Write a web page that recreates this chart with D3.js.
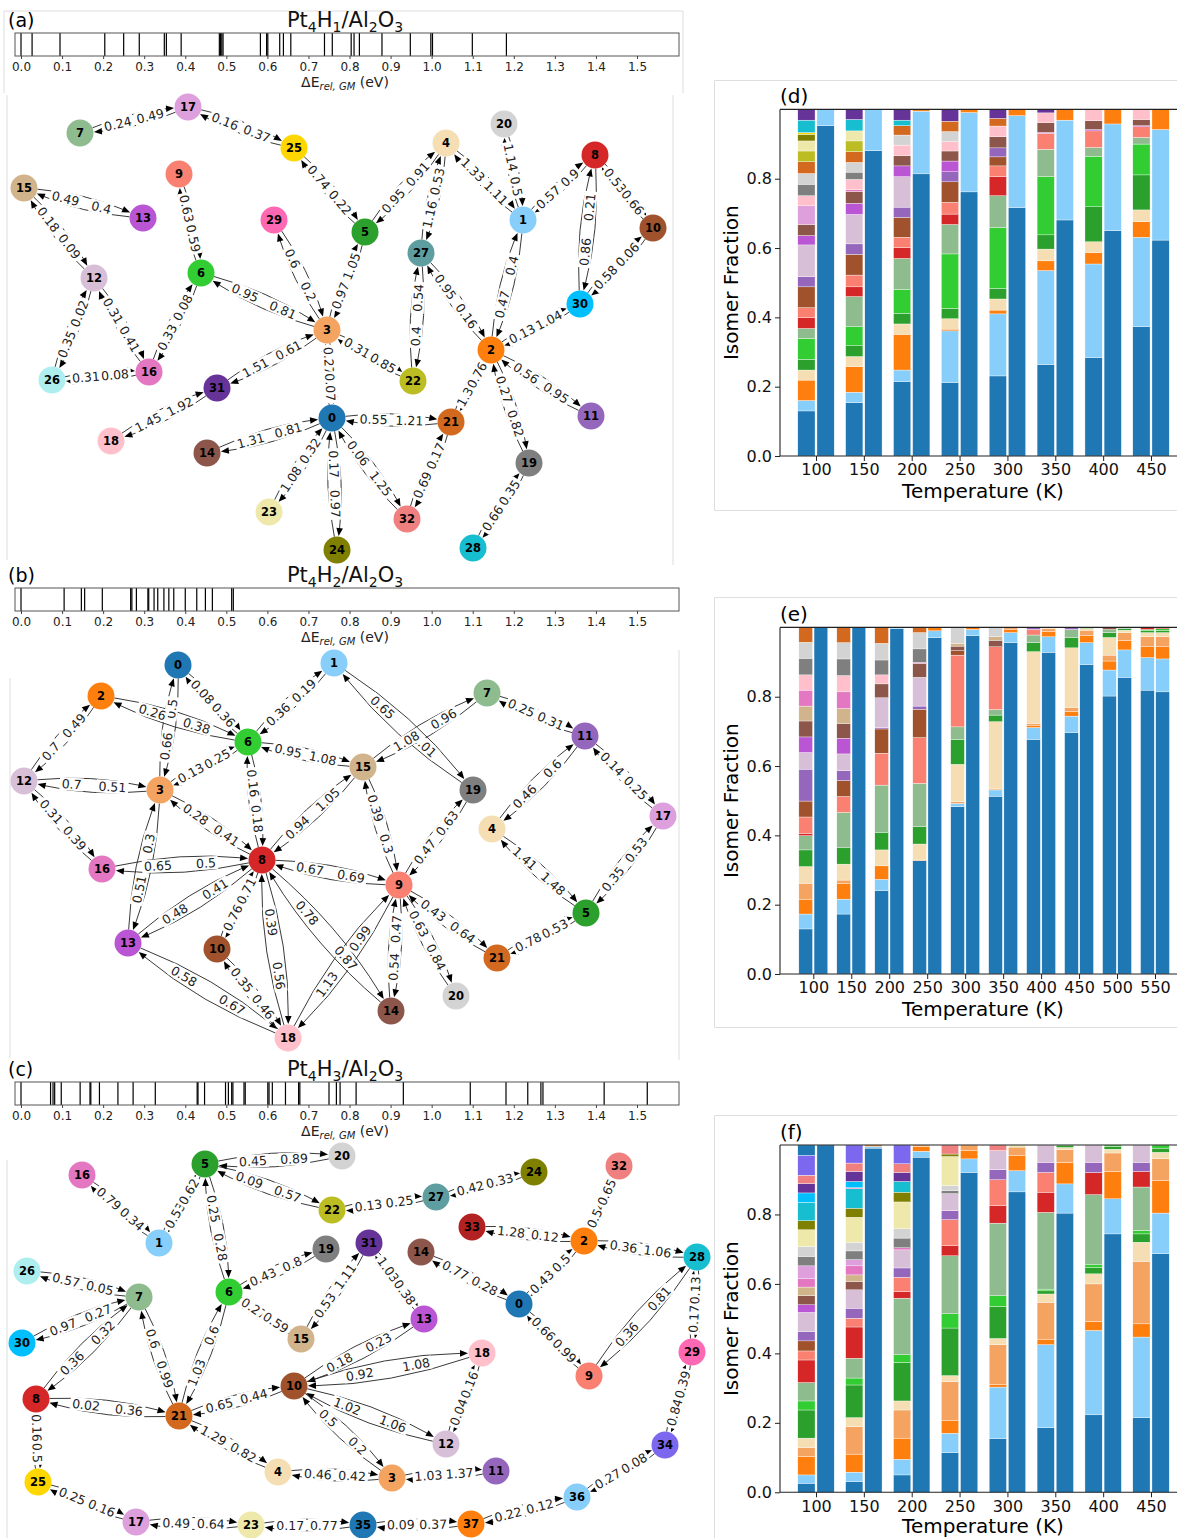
<!DOCTYPE html>
<html><head><meta charset="utf-8">
<script src="https://cdn.jsdelivr.net/npm/d3@7"></script>
<style>
body{margin:0;background:#fff;}
svg{display:block;font-family:"DejaVu Sans",sans-serif;}
</style></head><body>
<svg id="c" width="1177" height="1538"></svg>
<script>
// ---------------- colours (isomer index -> colour) ----------------
const palette = ["#1f77b4","#87cefa","#ff7f0e","#f4a460","#f5deb3","#2ca02c","#32cd32","#8fbc8f","#d62728","#fa8072","#a0522d","#9467bd","#d8bfd8","#ba55d3","#8c564b","#d2b48c","#e377c2","#dda0dd","#ffc0cb","#7f7f7f","#d3d3d3","#d2691e","#bcbd22","#eee8aa","#808000","#ffd700","#afeeee","#5f9ea0","#17becf","#ff69b4","#00bfff","#663399","#f08080","#b22222","#7b68ee"];

// ---------------- energy strips (eV relative to GM) ----------------
const energyTicks = [0,0.1,0.2,0.3,0.4,0.5,0.6,0.7,0.8,0.9,1.0,1.1,1.2,1.3,1.4,1.5];
const energiesA = [0.0,0.027,0.095,0.204,0.25,0.288,0.349,0.354,0.39,0.483,0.486,0.489,0.492,0.583,0.598,0.601,0.63,0.639,0.657,0.739,0.758,0.804,0.811,0.824,0.879,0.948,0.998,1.002,1.099,1.182];
const energiesB = [0.0,0.105,0.147,0.155,0.198,0.267,0.27,0.281,0.309,0.311,0.324,0.333,0.348,0.36,0.372,0.4,0.428,0.449,0.466,0.513,0.517];
const energiesC = [0.0,0.072,0.078,0.082,0.098,0.144,0.168,0.17,0.191,0.236,0.273,0.327,0.429,0.431,0.447,0.498,0.505,0.513,0.516,0.543,0.546,0.601,0.604,0.612,0.644,0.676,0.679,0.75,0.768,0.777,0.816,0.931,1.094,1.181,1.234,1.266,1.271,1.42,1.525];

// ---------------- network layouts [isomer, layoutX, layoutY] ----------------
const nodesA = [[0,332,323],[1,523,125],[2,491,255],[3,327,235],[4,446,48],[5,365,137],[6,201,178],[7,80,38],[8,595,60],[9,179,79],[10,653,133],[11,591,321],[12,94,183],[13,143,123],[14,207,358],[15,24,93],[16,149,277],[17,188,12],[18,111,346],[19,529,368],[20,504,29],[21,451,327],[22,413,286],[23,269,417],[24,337,455],[25,294,53],[26,52,285],[27,421,158],[28,473,453],[29,274,125],[30,580,209],[31,217,293],[32,407,424]];
const nodesB = [[0,178,15],[1,334,13],[2,101,46],[3,160,140],[4,492,179],[5,586,263],[6,248,92],[7,487,43],[8,262,210],[9,399,235],[10,217,299],[11,585,86],[12,24,131],[13,128,293],[14,391,361],[15,363,117],[16,102,219],[17,663,166],[18,288,388],[19,473,140],[20,456,346],[21,497,308]];
const nodesC = [[0,519,164],[1,159,103],[2,584,101],[3,392,338],[4,278,332],[5,205,24],[6,229,152],[7,139,157],[8,36,259],[9,589,236],[10,294,246],[11,496,331],[12,446,304],[13,424,179],[14,421,112],[15,301,199],[16,82,35],[17,136,382],[18,482,213],[19,326,109],[20,342,16],[21,179,276],[22,332,70],[23,251,385],[24,534,32],[25,38,342],[26,27,131],[27,436,57],[28,697,117],[29,692,212],[30,22,203],[31,369,103],[32,619,26],[33,472,87],[34,665,305],[35,363,385],[36,577,357],[37,471,384]];

// ---------------- barriers [u, v, label near u, label near v] ----------------
const edgesA = [[7,17,0.24,0.49],[17,25,0.16,0.37],[25,5,0.74,0.22],[15,13,0.49,0.4],[15,12,0.18,0.09],[9,6,0.63,0.59],[29,3,0.6,0.2],[12,26,0.02,0.35],[12,16,0.31,0.41],[16,6,0.33,0.08],[6,3,0.95,0.81],[26,16,0.31,0.08],[3,31,0.61,1.51],[31,18,1.92,1.45],[3,0,0.27,0.07],[3,5,0.97,1.05],[3,22,0.31,0.85],[0,14,0.81,1.31],[0,23,0.32,1.08],[0,24,0.17,0.97],[0,32,0.06,1.25],[0,21,0.55,1.21],[21,32,0.17,0.69],[21,2,1.3,0.76],[5,4,0.95,0.91],[4,27,0.53,1.16],[4,1,1.33,1.11],[20,1,1.14,0.5],[1,8,0.57,0.9],[8,10,0.53,0.66],[8,30,0.21,0.86],[10,30,0.06,0.58],[27,22,0.54,0.4],[27,2,0.95,0.16],[1,2,0.4,0.47],[2,30,0.13,1.04],[2,11,0.56,0.95],[2,19,0.27,0.82],[19,28,0.35,0.66]];
const edgesB = [[0,6,0.08,0.36],[0,3,0.5,0.66],[1,6,0.19,0.36],[1,19,0.65,1.01],[2,12,0.49,0.7],[2,6,0.26,0.38],[12,3,0.7,0.51],[12,16,0.31,0.39],[3,6,0.13,0.25],[6,15,0.95,1.08],[6,8,0.16,0.18],[3,8,0.28,0.41],[3,13,0.3,0.51],[16,8,0.65,0.5],[8,15,0.94,1.05],[8,13,0.41,0.48],[8,10,0.71,0.76],[8,18,0.39,0.56],[8,14,0.78,0.87],[8,9,0.67,0.69],[13,18,0.58,0.67],[10,18,0.35,0.46],[18,9,1.13,0.99],[15,7,1.08,0.96],[15,9,0.39,0.3],[9,19,0.47,0.63],[9,14,0.47,0.54],[9,20,0.63,0.84],[9,21,0.43,0.64],[7,11,0.25,0.31],[11,4,0.6,0.46],[11,17,0.14,0.25],[4,5,1.41,1.48],[17,5,0.53,0.35],[5,21,0.53,0.78]];
const edgesC = [[16,1,0.79,0.34],[1,5,0.53,0.62],[5,20,0.45,0.89],[5,22,0.09,0.57],[5,6,0.25,0.28],[22,27,0.13,0.25],[27,24,0.42,0.33],[6,19,0.43,0.8],[6,15,0.27,0.59],[6,21,0.6,1.03],[15,31,0.53,1.11],[31,13,1.03,0.38],[26,7,0.57,0.05],[30,7,0.97,0.27],[7,8,0.32,0.36],[7,21,0.6,0.99],[8,21,0.02,0.36],[8,25,0.16,0.5],[21,10,0.65,0.44],[21,4,1.29,0.82],[10,13,0.18,0.23],[10,18,0.92,1.08],[10,12,1.02,1.06],[10,3,0.5,0.2],[18,12,0.16,0.04],[4,3,0.46,0.42],[3,11,1.03,1.37],[25,17,0.25,0.16],[17,23,0.49,0.64],[23,35,0.17,0.77],[35,37,0.09,0.37],[37,36,0.22,0.12],[36,34,0.27,0.08],[34,29,0.84,0.39],[29,28,0.17,0.13],[28,2,1.06,0.36],[28,9,0.81,0.36],[2,32,0.54,0.65],[33,2,1.28,0.12],[0,2,0.43,0.5],[14,0,0.77,0.28],[0,9,0.66,0.99]];

// ---------------- isomer fractions: [isomer, cumulative fraction] ----------------
const tempsD = [100,150,200,250,300,350,400,450];
const dLeft = [
 [[0,.130],[1,.160],[2,.219],[4,.248],[5,.279],[6,.339],[7,.368],[8,.399],[9,.428],[10,.488],[11,.517],[12,.609],[13,.636],[14,.668],[17,.722],[18,.751],[19,.784],[20,.815],[21,.849],[22,.880],[23,.909],[24,.928],[25,.933],[28,.969],[31,1]],
 [[0,.154],[1,.184],[2,.258],[4,.287],[5,.318],[6,.373],[7,.460],[8,.488],[9,.522],[10,.582],[11,.612],[12,.697],[13,.729],[14,.763],[16,.768],[18,.798],[19,.819],[20,.847],[21,.878],[22,.909],[23,.938],[28,.971],[31,1]],
 [[0,.214],[1,.248],[2,.351],[4,.381],[5,.412],[6,.481],[7,.570],[8,.601],[9,.631],[10,.688],[11,.718],[12,.806],[13,.837],[14,.866],[18,.897],[20,.926],[21,.953],[28,.969],[31,1]],
 [[0,.212],[1,.361],[2,.366],[4,.396],[5,.426],[6,.583],[7,.668],[8,.698],[9,.732],[10,.791],[11,.820],[13,.851],[14,.880],[18,.907],[20,.936],[21,.966],[31,1]],
 [[0,.231],[1,.410],[2,.421],[4,.453],[5,.484],[6,.659],[7,.751],[8,.806],[9,.837],[10,.863],[11,.889],[14,.921],[18,.952],[21,.974],[31,1]],
 [[0,.264],[1,.535],[2,.563],[4,.597],[5,.638],[6,.806],[7,.885],[9,.931],[13,.934],[14,.962],[18,.990],[31,1]],
 [[0,.284],[1,.554],[2,.587],[4,.618],[5,.719],[6,.865],[7,.890],[9,.938],[13,.942],[14,.967],[18,1]],
 [[0,.373],[1,.631],[2,.676],[4,.710],[5,.811],[6,.900],[7,.919],[9,.950],[13,.953],[14,.971],[18,1]]
];
const dRight = [
 [[0,.953],[1,1]],[[0,.881],[1,1]],[[0,.814],[1,.995],[2,1]],[[0,.762],[1,.991],[2,1]],
 [[0,.717],[1,.982],[2,1]],[[0,.681],[1,.969],[2,1]],[[0,.650],[1,.958],[2,1]],[[0,.623],[1,.942],[2,1]]
];
const tempsE = [100,150,200,250,300,350,400,450,500,550];
const eLeft = [
 [[0,.130],[1,.173],[2,.216],[3,.262],[4,.310],[5,.358],[7,.399],[8,.406],[9,.453],[10,.499],[11,.591],[12,.639],[13,.684],[14,.730],[15,.773],[16,.819],[18,.863],[19,.911],[20,.957],[21,1]],
 [[0,.173],[1,.216],[2,.262],[3,.271],[4,.317],[5,.364],[7,.466],[9,.512],[10,.558],[11,.587],[12,.635],[13,.680],[14,.723],[15,.766],[16,.814],[18,.861],[19,.909],[20,.956],[21,1]],
 [[0,.240],[1,.273],[2,.312],[4,.358],[5,.409],[7,.545],[9,.637],[10,.707],[11,.711],[12,.797],[14,.837],[18,.863],[19,.906],[20,.954],[21,1]],
 [[0,.327],[3,.329],[4,.375],[5,.425],[7,.550],[9,.682],[10,.764],[11,.773],[12,.856],[14,.896],[16,.899],[19,.938],[20,.985],[21,1]],
 [[0,.483],[1,.492],[3,.497],[4,.605],[5,.677],[7,.713],[9,.920],[10,.933],[14,.946],[15,.954],[20,1]],
 [[0,.513],[1,.531],[3,.534],[4,.728],[5,.747],[7,.763],[9,.944],[14,.963],[15,.973],[20,1]],
 [[0,.677],[1,.711],[2,.718],[3,.723],[4,.930],[5,.956],[7,.978],[9,.994],[11,1]],
 [[0,.696],[1,.744],[2,.757],[3,.769],[4,.941],[5,.970],[7,.994],[11,1]],
 [[0,.802],[1,.877],[2,.903],[3,.920],[4,.971],[5,.985],[7,.994],[14,1]],
 [[0,.819],[1,.913],[2,.944],[3,.973],[4,.985],[5,.991],[6,.994],[8,1]]
];
const eRight = [
 [[0,1]],[[0,1]],[[0,.996],[1,1]],[[0,.971],[1,.99],[2,1]],[[0,.976],[1,.994],[2,1]],
 [[0,.956],[1,.985],[2,.995],[3,1]],[[0,.928],[1,.973],[2,.988],[3,.997],[4,1]],
 [[0,.893],[1,.956],[2,.976],[3,.992],[4,.997],[5,1]],
 [[0,.856],[1,.935],[2,.962],[3,.985],[4,.992],[5,.997],[7,1]],
 [[0,.814],[1,.909],[2,.944],[3,.973],[4,.985],[5,.991],[6,.996],[8,1]]
];
const tempsF = [100,150,200,250,300,350,400,450];
const fLeft = [
 [[0,.026],[1,.050],[2,.103],[3,.129],[4,.156],[5,.237],[6,.263],[7,.316],[8,.381],[9,.407],[10,.436],[11,.463],[12,.518],[13,.540],[14,.566],[15,.591],[16,.615],[17,.652],[19,.679],[20,.708],[23,.756],[24,.782],[28,.835],[30,.862],[31,.889],[32,.913],[34,.970],[35,1]],
 [[0,.031],[1,.058],[2,.110],[3,.189],[4,.215],[5,.309],[6,.329],[7,.386],[8,.476],[9,.501],[11,.530],[12,.583],[14,.607],[15,.626],[16,.652],[17,.670],[19,.695],[20,.720],[23,.792],[24,.818],[28,.874],[29,.877],[30,.895],[31,.924],[32,.948],[34,1]],
 [[0,.050],[1,.095],[2,.156],[3,.237],[4,.263],[5,.374],[6,.396],[7,.559],[8,.578],[9,.619],[11,.646],[12,.698],[16,.704],[19,.732],[20,.759],[23,.836],[24,.864],[28,.895],[31,.921],[32,.946],[34,1]],
 [[0,.114],[1,.170],[2,.206],[3,.319],[4,.336],[5,.473],[6,.514],[7,.681],[8,.710],[9,.785],[11,.811],[12,.860],[19,.868],[20,.883],[23,.967],[24,.974],[32,1]],
 [[0,.154],[1,.303],[2,.311],[3,.425],[4,.443],[5,.535],[6,.566],[7,.775],[8,.826],[9,.900],[11,.929],[12,.984],[32,1]],
 [[0,.186],[1,.425],[2,.441],[3,.547],[4,.571],[5,.580],[6,.585],[7,.806],[8,.864],[9,.921],[11,.950],[12,1]],
 [[0,.223],[1,.466],[2,.492],[3,.600],[4,.629],[5,.647],[6,.655],[7,.857],[8,.921],[11,.950],[12,1]],
 [[0,.215],[1,.447],[2,.485],[3,.665],[4,.720],[5,.744],[6,.754],[7,.879],[8,.924],[11,.950],[12,1]]
];
const fRight = [
 [[0,1]],[[0,.991],[1,.996],[2,1]],[[0,.965],[1,.982],[2,.996],[3,1]],[[0,.921],[1,.960],[2,.985],[3,1]],
 [[0,.865],[1,.926],[2,.969],[3,.994],[23,1]],
 [[0,.804],[1,.888],[2,.950],[3,.987],[4,.993],[5,.998],[6,1]],
 [[0,.744],[1,.845],[2,.924],[3,.977],[4,.988],[5,.996],[6,1]],
 [[0,.687],[1,.804],[2,.898],[3,.961],[4,.979],[5,.991],[6,1]]
];
const fractionTicks = [0,0.2,0.4,0.6,0.8];

// =====================================================================
const svg = d3.select("#c");
const col = i => palette[i % palette.length];

// faint frames
const frames = ["M4,93V11H683V93","M7,95V560","M673,95V565","M10,678V1058","M679,650V1060","M7,1160V1538",
  "M1177,80.5H714.5V510.5H1177","M1177,597.5H714.5V1027.5H1177","M1177,1115.5H714.5V1538"];
svg.append("g").selectAll("path").data(frames).join("path").attr("d",d=>d)
  .attr("fill","none").attr("stroke","#dedede").attr("stroke-width",1);

function chemTitle(g, x, y, h) {
  const t = g.append("text").attr("x",x).attr("y",y).attr("text-anchor","middle").attr("font-size",21).attr("fill","#111");
  const parts = [["Pt",0],["4",1],["H",0],[h,1],["/Al",0],["2",1],["O",0],["3",1]];
  let prevSub = 0;
  parts.forEach(([s,sub]) => {
    const dy = sub ? 5 : (prevSub ? -5 : 0);
    t.append("tspan").text(s).attr("font-size", sub?14:21).attr("dy", dy);
    prevSub = sub;
  });
}

function drawStrip(energies, top, h, letter) {
  const g = svg.append("g");
  const x = d3.scaleLinear().domain([0,1.5]).range([21,637]);
  const bh = 23;
  g.append("text").attr("x",8).attr("y",top-6).attr("font-size",19).text("("+letter+")");
  chemTitle(g, 345, top-6, h);
  g.selectAll("line.e").data(energies).join("line")
    .attr("x1",d=>x(d)).attr("x2",d=>x(d)).attr("y1",top).attr("y2",top+bh)
    .attr("stroke","#000").attr("stroke-width",1.2);
  g.append("rect").attr("x",15).attr("y",top).attr("width",664).attr("height",bh)
    .attr("fill","none").attr("stroke","#555").attr("stroke-width",1);
  const ax = g.append("g").attr("transform",`translate(0,${top+bh})`)
    .call(d3.axisBottom(x).tickValues(energyTicks).tickFormat(d3.format(".1f")).tickSize(3).tickPadding(3));
  ax.select(".domain").remove();
  ax.selectAll("text").attr("font-size",12).attr("font-family","DejaVu Sans").attr("fill","#222");
  ax.selectAll("line").attr("stroke","#444");
  const xl = g.append("text").attr("x",345).attr("y",top+bh+31).attr("text-anchor","middle").attr("font-size",14).attr("fill","#222");
  xl.append("tspan").text("\u0394E");
  xl.append("tspan").text("rel, GM").attr("font-style","italic").attr("font-size",10).attr("dy",3);
  xl.append("tspan").text(" (eV)").attr("dy",-3);
}

function drawGraph(nodes, edges, top) {
  const g = svg.append("g");
  const xs = d3.scaleLinear().domain([0,700]).range([0,700]);
  const ys = d3.scaleLinear().domain([0,480]).range([top, top+480]);
  const pos = new Map(nodes.map(([id,lx,ly]) => [id,[xs(lx),ys(ly)]]));
  const R = 13.5, rad = 0.08, AL = 8, AW = 3.3;
  const eg = g.append("g"), lg = g.append("g"), ng = g.append("g");
  function arc(p0, p2) {
    const dx = p2[0]-p0[0], dy = p2[1]-p0[1];
    const c = [(p0[0]+p2[0])/2 + rad*dy, (p0[1]+p2[1])/2 - rad*dx];
    let ux = c[0]-p0[0], uy = c[1]-p0[1], l = Math.hypot(ux,uy);
    const s = [p0[0]+ux/l*R, p0[1]+uy/l*R];
    let vx = p2[0]-c[0], vy = p2[1]-c[1]; l = Math.hypot(vx,vy); vx/=l; vy/=l;
    const tip = [p2[0]-vx*(R+0.5), p2[1]-vy*(R+0.5)];
    const base = [tip[0]-vx*AL, tip[1]-vy*AL];
    const pth = d3.path(); pth.moveTo(s[0],s[1]); pth.quadraticCurveTo(c[0],c[1],base[0]+vx*1,base[1]+vy*1);
    eg.append("path").attr("d",pth.toString()).attr("fill","none").attr("stroke","#222").attr("stroke-width",0.9);
    eg.append("path").attr("d",`M${tip[0]},${tip[1]}L${base[0]-vy*AW},${base[1]+vx*AW}L${base[0]+vy*AW},${base[1]-vx*AW}Z`).attr("fill","#000");
  }
  function lab(p0, p1, t, v) {
    const x = p0[0]+(p1[0]-p0[0])*t, y = p0[1]+(p1[1]-p0[1])*t;
    let a = Math.atan2(p1[1]-p0[1], p1[0]-p0[0])*180/Math.PI;
    if (a > 90) a -= 180; if (a < -90) a += 180;
    const gg = lg.append("g").attr("transform",`translate(${x},${y}) rotate(${a})`);
    const tx = gg.append("text").attr("text-anchor","middle").attr("dy","0.36em").attr("font-size",12.5).attr("fill","#222").text(String(v));
    const bb = tx.node().getBBox();
    gg.insert("rect","text").attr("x",bb.x-2).attr("y",bb.y+1).attr("width",bb.width+4).attr("height",bb.height-2).attr("fill","#fff");
  }
  edges.forEach(([u,v,lu,lv]) => {
    const pu = pos.get(u), pv = pos.get(v);
    arc(pu,pv); arc(pv,pu);
  });
  edges.forEach(([u,v,lu,lv]) => {
    const pu = pos.get(u), pv = pos.get(v);
    lab(pu,pv,0.35,lu); lab(pu,pv,0.65,lv);
  });
  nodes.forEach(([id]) => {
    const p = pos.get(id);
    ng.append("circle").attr("cx",p[0]).attr("cy",p[1]).attr("r",R).attr("fill",col(id));
    ng.append("text").attr("x",p[0]).attr("y",p[1]).attr("dy","0.36em").attr("text-anchor","middle")
      .attr("font-size",11.5).attr("font-weight","bold").attr("fill","#000").text(id);
  });
}

function drawBars(temps, left, right, xr, yr, letter) {
  const g = svg.append("g");
  const x = d3.scaleLinear().domain([temps[0], temps[temps.length-1]]).range(xr);
  const y = d3.scaleLinear().domain([0,1]).range(yr);
  const axL = 780;
  temps.forEach((T,i) => {
    [[left[i],-10],[right[i],10]].forEach(([stack,off]) => {
      let prev = 0;
      stack.forEach(([iso,top]) => {
        g.append("rect").attr("x",x(T+off-9)).attr("width",x(T+off+9)-x(T+off-9))
          .attr("y",y(top)).attr("height",Math.max(0,y(prev)-y(top)))
          .attr("fill",col(iso)).attr("stroke","#fff").attr("stroke-width",0.35);
        prev = top;
      });
    });
  });
  const sp = g.append("g").attr("stroke","#222").attr("stroke-width",1.1);
  sp.append("line").attr("x1",axL).attr("x2",axL).attr("y1",y(1)).attr("y2",y(0));
  sp.append("line").attr("x1",axL).attr("x2",1177).attr("y1",y(0)).attr("y2",y(0));
  sp.append("line").attr("x1",axL).attr("x2",1177).attr("y1",y(1)).attr("y2",y(1));
  const ya = g.append("g").attr("transform",`translate(${axL},0)`)
    .call(d3.axisLeft(y).tickValues(fractionTicks).tickFormat(d3.format(".1f")).tickSize(5).tickPadding(3));
  const xa = g.append("g").attr("transform",`translate(0,${y(0)})`)
    .call(d3.axisBottom(x).tickValues(temps).tickFormat(d3.format("d")).tickSize(5).tickPadding(3));
  [ya,xa].forEach(a => { a.select(".domain").remove();
    a.selectAll("text").attr("font-size",16).attr("font-family","DejaVu Sans").attr("fill","#111");
    a.selectAll("line").attr("stroke","#222"); });
  g.append("text").attr("x",780).attr("y",y(1)-6).attr("font-size",20).text("("+letter+")");
  g.append("text").attr("transform",`translate(738,${(y(0)+y(1))/2}) rotate(-90)`).attr("text-anchor","middle")
    .attr("font-size",20).text("Isomer Fraction");
  g.append("text").attr("x",983).attr("y",Math.min(y(0)+42, 1533)).attr("text-anchor","middle").attr("font-size",20).text("Temperature (K)");
}

drawStrip(energiesA, 33, "1", "a");
drawGraph(nodesA, edgesA, 95);
drawStrip(energiesB, 588, "2", "b");
drawGraph(nodesB, edgesB, 650);
drawStrip(energiesC, 1082, "3", "c");
drawGraph(nodesC, edgesC, 1140);

drawBars(tempsD, dLeft, dRight, [816,1151], [456,109.4], "d");
drawBars(tempsE, eLeft, eRight, [813.3,1155], [974,627.4], "e");
drawBars(tempsF, fLeft, fRight, [816,1151], [1492.3,1145], "f");
</script></body></html>
